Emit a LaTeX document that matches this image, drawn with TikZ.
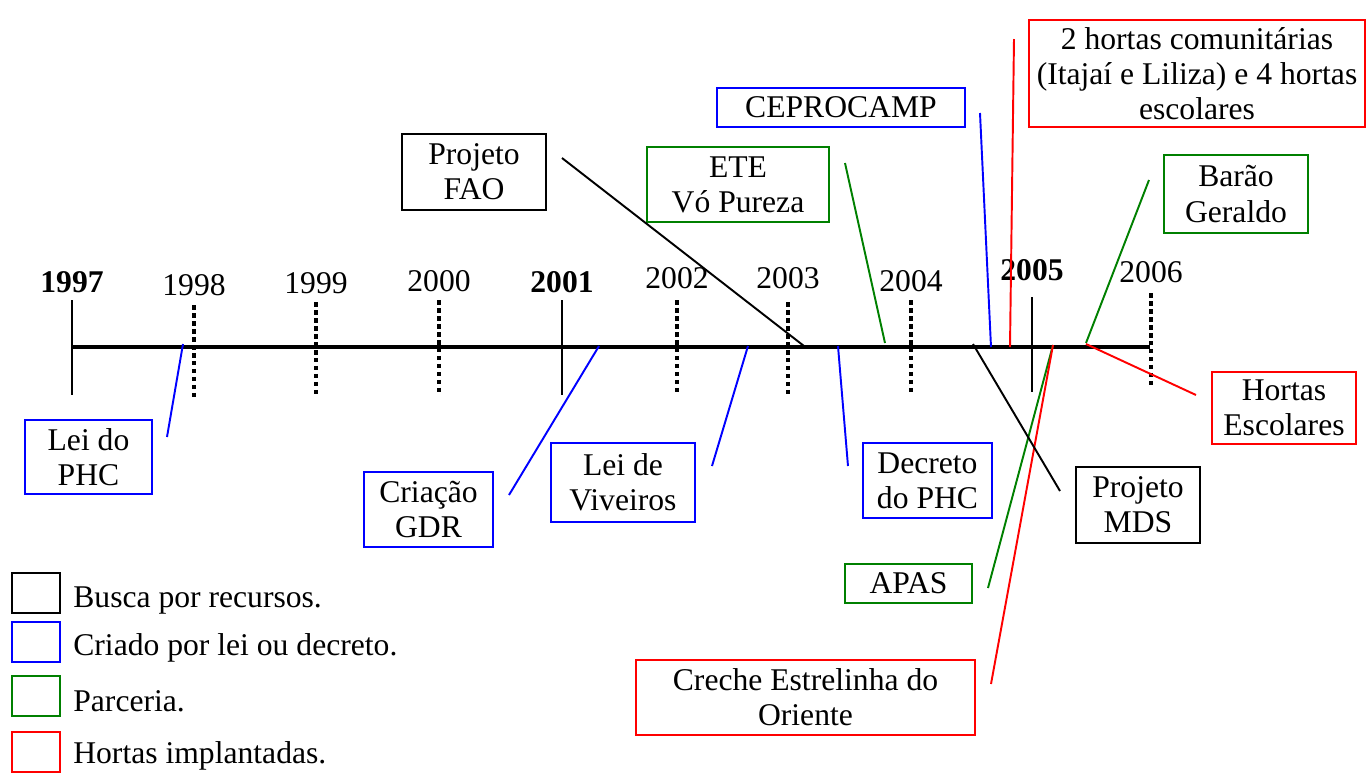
\documentclass[tikz,border=0pt]{standalone}
\usepackage{fontspec}
\setmainfont{Liberation Serif}
\definecolor{pgreen}{RGB}{0,128,0}

\tikzset{
  txt/.style={font=\fontsize{18}{20}\selectfont},
  yearlab/.style={txt},
  evbox/.style={txt, draw, line width=1.1pt, align=center, inner sep=0pt},
  link/.style={line width=1.1pt},
  dottick/.style={line width=2pt, dash pattern=on 0.09cm off 0.07cm},
  keybox/.style={draw, line width=1.1pt, minimum width=0.96cm, minimum height=0.8cm, inner sep=0pt}
}

\begin{document}
\begin{tikzpicture}[x=0.02cm, y=-0.02cm]
    \useasboundingbox (0,0) rectangle (1367,772);
    % Draw the time line
    \draw[line width=2.3pt] (72,347) -- (1150,347);
    % Main years
    \foreach \xx/\yy/\yr/\ly in {72/300/1997/282, 562/300/2001/282, 1032/297/2005/270}
      {\draw[line width=1.1pt] (\xx,\yy) -- (\xx,\yy+95);
       \node[yearlab, font=\fontsize{18}{20}\selectfont\bfseries] (y\yr) at (\xx,\ly) {\yr};}
    % Other years
    \foreach \xx/\yy/\yr/\ly in {194/305/1998/285, 316/302/1999/283, 439/300/2000/281,
        677/300/2002/278, 788/302/2003/278, 911/300/2004/281, 1151/293/2006/272}
      {\draw[dottick] (\xx,\yy) -- (\xx,\yy+95);
       \node[yearlab] (y\yr) at (\xx,\ly) {\yr};}

    % Events
    \node[evbox, blue, text=black, minimum width=2.54cm, minimum height=1.48cm] (phc) at (88.5,457) {Lei do\\PHC};
    \node[evbox, blue, text=black, minimum width=2.58cm, minimum height=1.5cm] (gdr) at (428.5,509.5) {Criação\\GDR};
    \node[evbox, blue, text=black, minimum width=2.88cm, minimum height=1.58cm] (viveiros) at (623,482.5) {Lei de\\Viveiros};
    \node[evbox, blue, text=black, minimum width=2.58cm, minimum height=1.5cm] (decreto) at (927.5,480.5) {Decreto\\do PHC};
    \node[evbox, minimum width=2.88cm, minimum height=1.52cm] (fao) at (474,172) {Projeto\\FAO};
    \node[evbox, pgreen, text=black, minimum width=3.64cm, minimum height=1.5cm] (ete) at (738,184.5) {ETE\\Vó Pureza};
    \node[evbox, blue, text=black, minimum width=4.96cm, minimum height=0.78cm] (ceprocamp) at (841,107.5) {CEPROCAMP};
    \node[evbox, red, text=black, minimum width=6.72cm, minimum height=2.14cm] (comunit) at (1197,73.5) {2 hortas comunitárias\\(Itajaí e Liliza) e 4 hortas\\escolares};
    \node[evbox, pgreen, text=black, minimum width=2.88cm, minimum height=1.56cm] (barao) at (1236,194) {Barão\\Geraldo};
    \node[evbox, red, text=black, minimum width=2.88cm, minimum height=1.44cm] (escolares) at (1284,408) {Hortas\\Escolares};
    \node[evbox, minimum width=2.48cm, minimum height=1.52cm] (mds) at (1138,505) {Projeto\\MDS};
    \node[evbox, pgreen, text=black, minimum width=2.54cm, minimum height=0.78cm] (apas) at (908.5,583.5) {APAS};
    \node[evbox, red, text=black, minimum width=6.78cm, minimum height=1.5cm] (creche) at (805.5,697.5) {Creche Estrelinha do\\Oriente};

    % Link ends
    \coordinate (phc-a) at (167,437);       \coordinate (phc-b) at (183,344);
    \coordinate (gdr-a) at (509,495);       \coordinate (gdr-b) at (599,346);
    \coordinate (viveiros-a) at (712,466);  \coordinate (viveiros-b) at (748,346);
    \coordinate (decreto-a) at (848,466);   \coordinate (decreto-b) at (838,346);
    \coordinate (fao-a) at (562,158);       \coordinate (fao-b) at (804,346);
    \coordinate (ete-a) at (845,163);       \coordinate (ete-b) at (885,343);
    \coordinate (ceprocamp-a) at (980,113); \coordinate (ceprocamp-b) at (991,347);
    \coordinate (comunit-a) at (1014,39);   \coordinate (comunit-b) at (1010,347);
    \coordinate (barao-a) at (1149,180);    \coordinate (barao-b) at (1086,343);
    \coordinate (escolares-a) at (1196,395);\coordinate (escolares-b) at (1086,344);
    \coordinate (mds-a) at (1060,491);      \coordinate (mds-b) at (973,344);
    \coordinate (apas-a) at (988,588);      \coordinate (apas-b) at (1053,345);
    \coordinate (creche-a) at (991,684);    \coordinate (creche-b) at (1053,345);

    % Draw the links
    \foreach \ev in {phc, gdr, viveiros, decreto, ceprocamp}
      \draw[link, blue] (\ev-a) -- (\ev-b);
    \foreach \ev in {ete, barao, apas}
      \draw[link, pgreen] (\ev-a) -- (\ev-b);
    \foreach \ev in {comunit, escolares, creche}
      \draw[link, red] (\ev-a) -- (\ev-b);
    \foreach \ev in {fao, mds}
      \draw[link] (\ev-a) -- (\ev-b);

    % Legend
    \node[keybox] (k1) at (36,593) {};
    \node[keybox, blue] (k2) at (36,642) {};
    \node[keybox, pgreen] (k3) at (36,696) {};
    \node[keybox, red] (k4) at (36,752) {};
    \node[txt, anchor=west, inner sep=0pt] (t1) at (73,601) {Busca por recursos.};
    \node[txt, anchor=west, inner sep=0pt] (t2) at (73,648) {Criado por lei ou decreto.};
    \node[txt, anchor=west, inner sep=0pt] (t3) at (73,701) {Parceria.};
    \node[txt, anchor=west, inner sep=0pt] (t4) at (73,756) {Hortas implantadas.};
\end{tikzpicture}
\end{document}
